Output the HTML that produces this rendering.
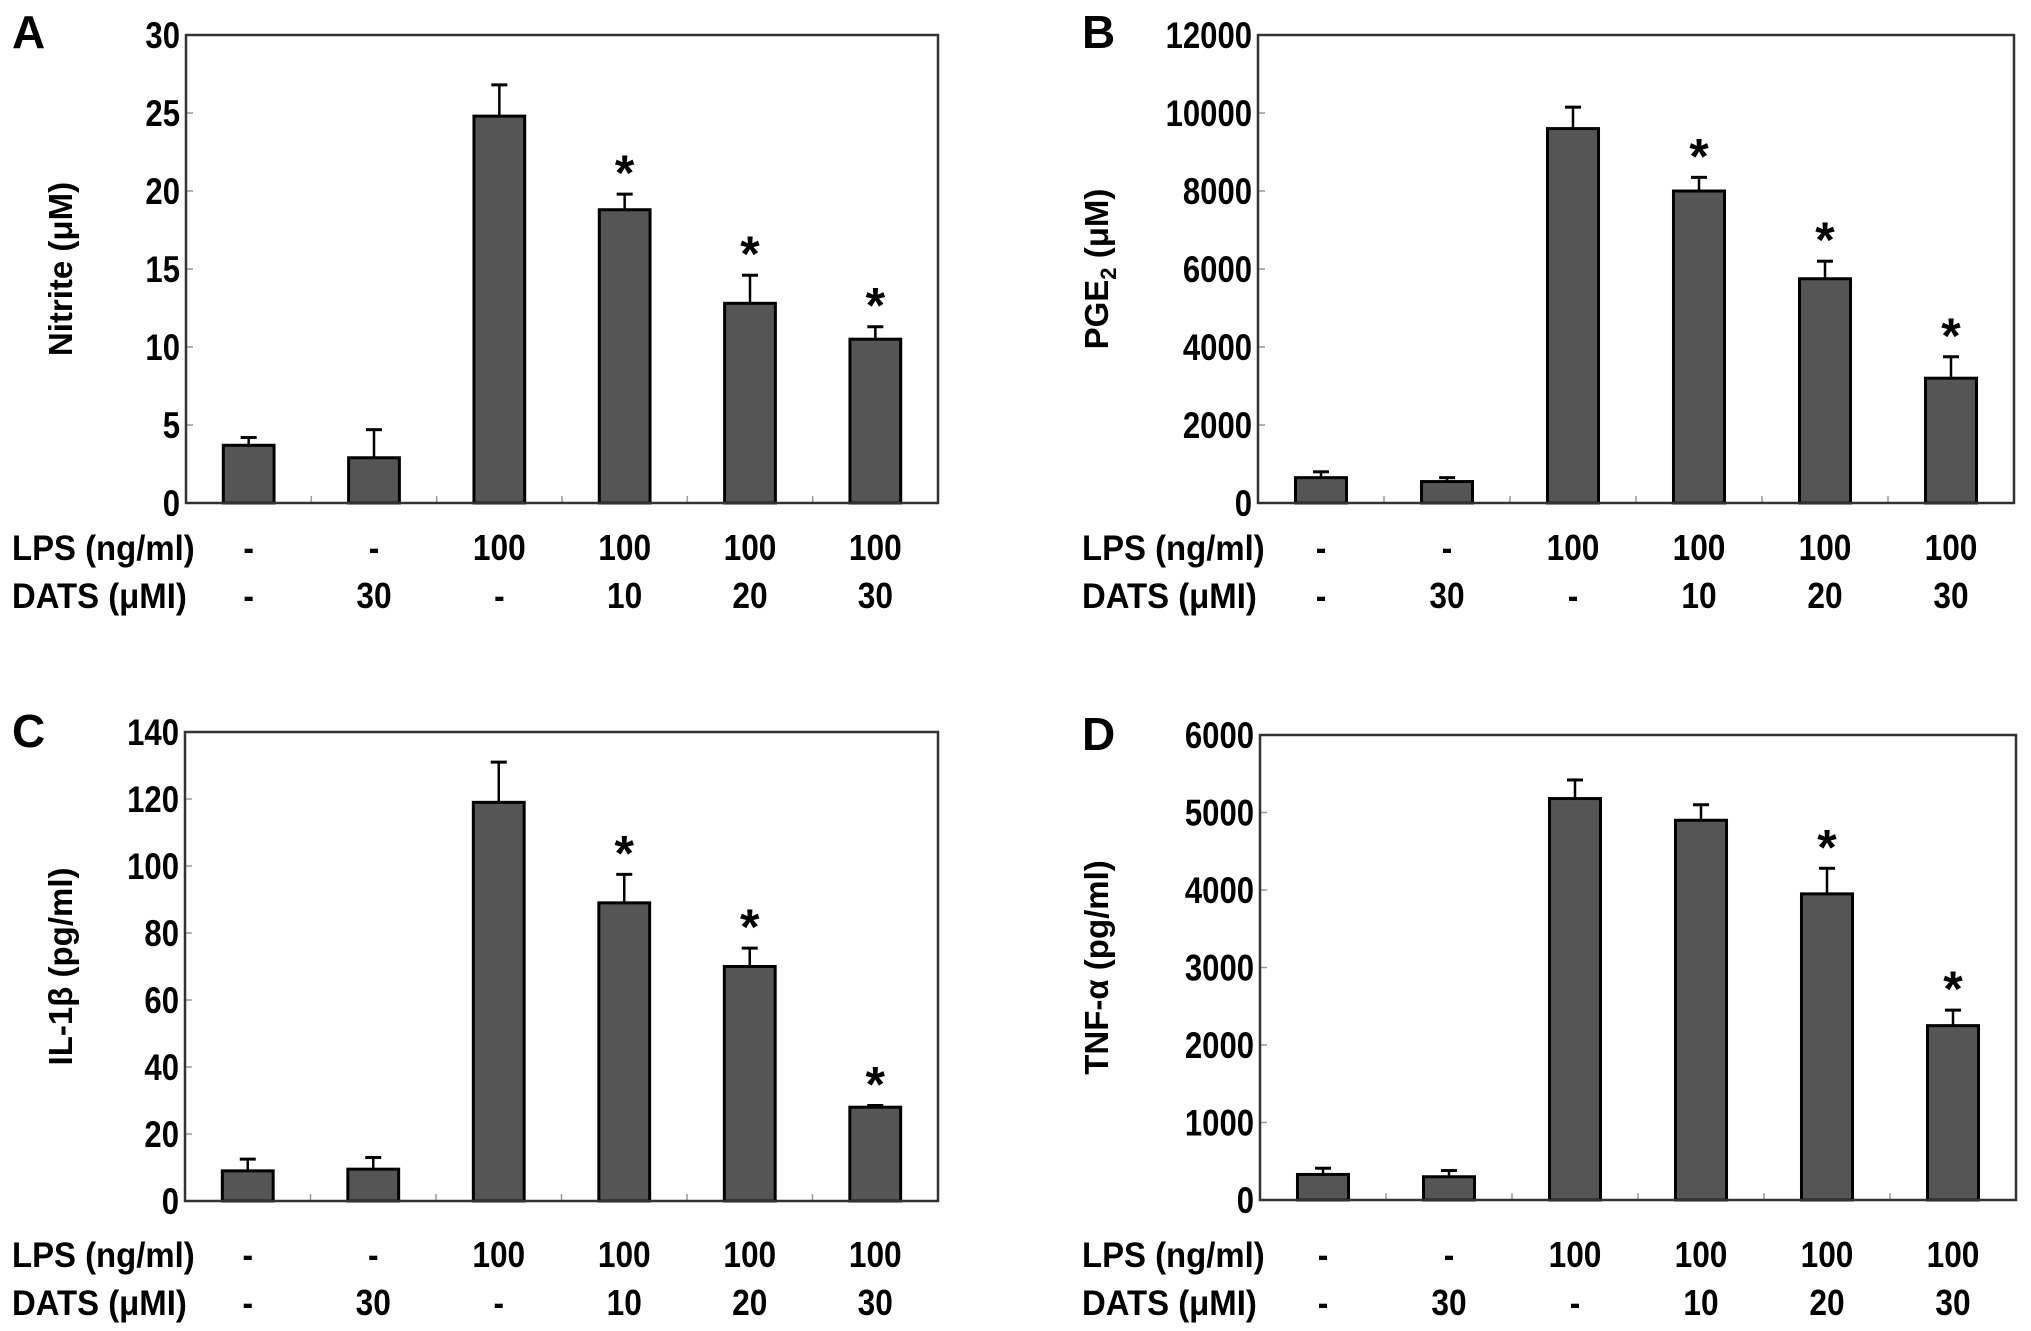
<!DOCTYPE html>
<html><head><meta charset="utf-8">
<style>
html,body{margin:0;padding:0;background:#fff;}
svg{display:block;font-family:"Liberation Sans",sans-serif;font-weight:bold;}
</style></head>
<body>
<svg id="fig" width="2031" height="1331" viewBox="0 0 2031 1331"></svg>
<script>
const lpsLabels = ["-","-","100","100","100","100"];
const datsLabels = ["-","30","-","10","20","30"];
const aValues = [3.7,2.9,24.8,18.8,12.8,10.5];
const aErrTop = [4.2,4.7,26.8,19.8,14.6,11.3];
const aStars = [false,false,false,true,true,true];
const aTicks = [0,5,10,15,20,25,30];
const bValues = [650,550,9600,8000,5750,3200];
const bErrTop = [800,650,10150,8350,6200,3750];
const bStars = [false,false,false,true,true,true];
const bTicks = [0,2000,4000,6000,8000,10000,12000];
const cValues = [9,9.5,119,89,70,28];
const cErrTop = [12.5,13,131,97.5,75.5,28.5];
const cStars = [false,false,false,true,true,true];
const cTicks = [0,20,40,60,80,100,120,140];
const dValues = [330,300,5180,4900,3950,2250];
const dErrTop = [410,380,5420,5100,4280,2450];
const dStars = [false,false,false,false,true,true];
const dTicks = [0,1000,2000,3000,4000,5000,6000];

const NS="http://www.w3.org/2000/svg";
const svg=document.getElementById('fig');
function mk(tag,attrs,parent,text){
  const e=document.createElementNS(NS,tag);
  for(const k in attrs) e.setAttribute(k,attrs[k]);
  if(text!==undefined) e.textContent=text;
  (parent||svg).appendChild(e);
  return e;
}
function ntext(g,x,y,size,anchor,str,sx){
  return mk('text',{x:0,y:0,'font-size':size,'text-anchor':anchor,transform:`translate(${x},${y}) scale(${sx||0.86},1)`},g,str);
}
function panel(cfg){
  const g=mk('g',{});
  
  
  const L=cfg.left,R=cfg.right,T=cfg.top,B=cfg.bottom;
  const max=cfg.ticks[cfg.ticks.length-1];
  const y=v=>B-(v/max)*(B-T);
  const gw=(R-L)/cfg.values.length;
  const x=i=>L+gw*(i+0.5);
  const bw=gw*0.405;
  const pl=mk('text',{x:cfg.lx,y:cfg.ly,'font-size':46},g,cfg.letter);
  
  
  cfg.ticks.forEach(t=>{
    const tl=ntext(g,L-6,y(t)+13,37,'end',String(t),0.84);
    
    
    if(t>0&&t<max) mk('line',{x1:L,x2:L+7,y1:y(t),y2:y(t),stroke:'#999','stroke-width':1.5},g);
  });
  for(let i=1;i<cfg.values.length;i++){
    mk('line',{x1:L+gw*i,x2:L+gw*i,y1:B,y2:B-7,stroke:'#999','stroke-width':1.5},g);
  }
  cfg.values.forEach((v,i)=>{
    const cx=x(i);
    const et=y(cfg.err[i]);
    const eb=mk('line',{x1:cx,x2:cx,y1:y(v),y2:et,stroke:'#000','stroke-width':2.5},g);
    
    
    mk('line',{x1:cx-8,x2:cx+8,y1:et,y2:et,stroke:'#000','stroke-width':3},g);
    const r=mk('rect',{x:cx-bw/2,y:y(v),width:bw,height:B-y(v),fill:'#555',stroke:'#000','stroke-width':3},g);
    
    
    if(cfg.stars[i]){
      const s=mk('text',{x:cx,y:et-4,'font-size':50,'text-anchor':'middle'},g,'*');
      
      
    }
  });
  const fr=mk('rect',{x:L,y:T,width:R-L,height:B-T,fill:'none',stroke:'#333','stroke-width':2.5},g);
  
  
  const yt=mk('text',{x:0,y:0,'font-size':33,'text-anchor':'middle',transform:`translate(${cfg.ytx},${(T+B)/2}) rotate(-90)`},g);
  
  
  yt.innerHTML=cfg.ytitle;
  const r1=cfg.row1, r2=cfg.row2;
  const l1=ntext(g,cfg.lx,r1,35,'start','LPS (ng/ml)',0.94);
  
  
  const l2=ntext(g,cfg.lx,r2,35,'start','DATS (\u03bcMI)',0.94);
  
  
  lpsLabels.forEach((t,i)=>{
    const e=ntext(g,x(i),r1,36,'middle',t,0.88);
    
    
  });
  datsLabels.forEach((t,i)=>{
    const e=ntext(g,x(i),r2,36,'middle',t,0.88);
    
    
  });
}
panel({letter:'A',lx:12,ly:48,left:186,right:938,top:35,bottom:503,ticks:aTicks,values:aValues,err:aErrTop,stars:aStars,ytx:72,ytitle:'Nitrite (\u03bcM)',row1:560,row2:608});
panel({letter:'B',lx:1082,ly:48,left:1258,right:2014,top:35,bottom:503,ticks:bTicks,values:bValues,err:bErrTop,stars:bStars,ytx:1108,ytitle:'PGE<tspan font-size="22" dy="8">2</tspan><tspan dy="-8"> (\u03bcM)</tspan>',row1:560,row2:608});
panel({letter:'C',lx:12,ly:747,left:185,right:938,top:732,bottom:1201,ticks:cTicks,values:cValues,err:cErrTop,stars:cStars,ytx:72,ytitle:'IL-1\u03b2 (pg/ml)',row1:1267,row2:1315});
panel({letter:'D',lx:1082,ly:750,left:1260,right:2016,top:735,bottom:1200,ticks:dTicks,values:dValues,err:dErrTop,stars:dStars,ytx:1108,ytitle:'TNF-\u03b1 (pg/ml)',row1:1267,row2:1315});
</script>
</body></html>
